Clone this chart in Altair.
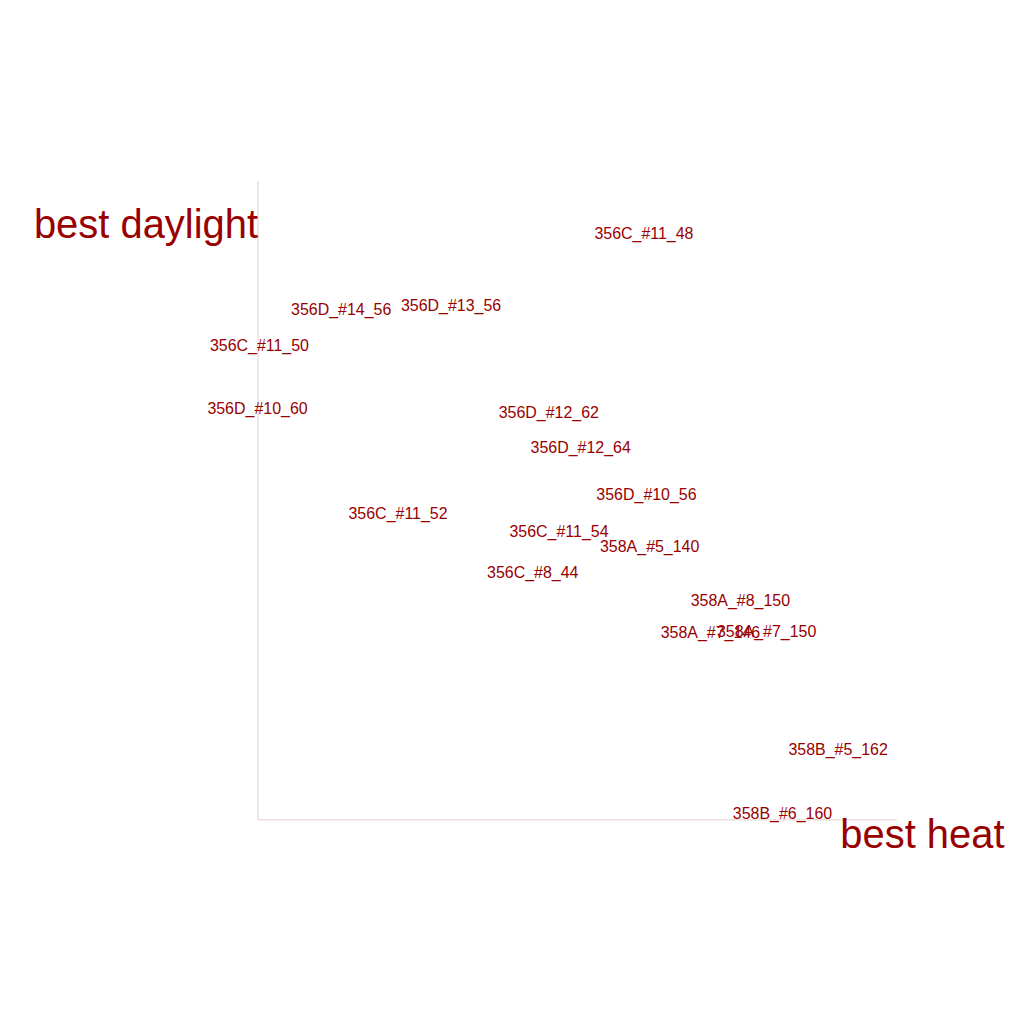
import altair as alt
import pandas as pd

labels = ["356C_#11_48", "356D_#14_56", "356D_#13_56", "356C_#11_50", "356D_#10_60",
          "356D_#12_62", "356D_#12_64", "356D_#10_56", "356C_#11_52", "356C_#11_54",
          "358A_#5_140", "356C_#8_44", "358A_#8_150", "358A_#7_146", "358A_#7_150",
          "358B_#5_162", "358B_#6_160"]
heat = [60.5, 13.1, 30.3, 0.3, 0.0, 45.6, 50.6, 60.9, 22.0, 47.2,
        61.4, 43.1, 75.6, 70.9, 79.7, 90.9, 82.2]
daylight = [91.7, 79.8, 80.3, 74.1, 64.2, 63.6, 58.1, 50.8, 47.8, 45.0,
            42.7, 38.6, 34.2, 29.1, 29.4, 10.8, 0.8]

df = pd.DataFrame({"label": labels, "heat": heat, "daylight": daylight})
red = "#990000"

chart = alt.Chart(df).mark_text(fontSize=16, font="Liberation Sans", color=red).encode(
    alt.X("heat:Q").scale(domain=[0, 100], nice=False).axis(
        grid=False, ticks=False, labels=False, domainColor="#e6cccc",
        title="best heat", titleFontSize=40, titleFont="Liberation Sans",
        titleFontWeight="normal", titleColor=red, titleAlign="right",
        titleX=748, titleY=16, titleBaseline="middle"),
    alt.Y("daylight:Q").scale(domain=[0, 100], nice=False).axis(
        grid=False, ticks=False, labels=False, domainColor="#e6cccc",
        title="best daylight", titleFontSize=40, titleFont="Liberation Sans",
        titleFontWeight="normal", titleColor=red, titleAngle=0, titleAlign="right",
        titleX=0, titleY=45, titleBaseline="middle"),
    text="label:N",
).properties(
    width=640, height=640, autosize="none",
    padding={"left": 250, "top": 172, "right": 120, "bottom": 180},
).configure_view(stroke=None)

chart.save("out.html", embed_options={"renderer": "svg", "actions": False})
